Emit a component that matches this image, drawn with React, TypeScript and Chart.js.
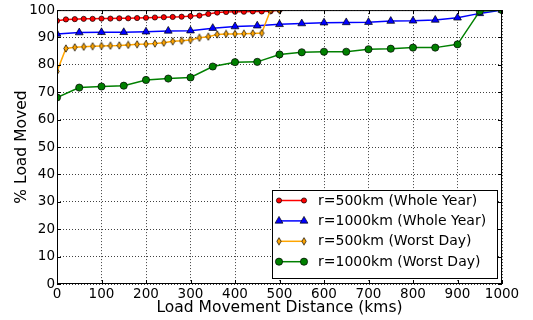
import React, { useEffect, useRef } from "react";
import { Chart, registerables } from "chart.js";
Chart.register(...registerables);

const distFine = [0, 20, 40, 60, 80, 100, 120, 140, 160, 180, 200, 220, 240, 260, 280, 300, 320, 340, 360, 380, 400, 420, 440, 460, 480, 500];
const distCoarse = [0, 50, 100, 150, 200, 250, 300, 350, 400, 450, 500, 550, 600, 650, 700, 750, 800, 850, 900, 950, 1000];

const r500WholeYear = [96.1, 96.6, 96.7, 96.8, 96.8, 96.9, 96.9, 97.0, 97.0, 97.1, 97.2, 97.3, 97.4, 97.5, 97.6, 97.8, 98.0, 98.6, 99.1, 99.3, 99.4, 99.4, 99.5, 99.5, 99.6, 100];
const r1000WholeYear = [91.3, 91.8, 91.9, 91.9, 92.1, 92.4, 92.5, 93.4, 94.0, 94.3, 94.8, 95.1, 95.4, 95.5, 95.6, 96.0, 96.1, 96.4, 97.2, 98.8, 100];
const r500WorstDay = [77.6, 86.0, 86.4, 86.6, 86.8, 86.9, 87.0, 87.1, 87.3, 87.5, 87.6, 87.8, 88.1, 88.6, 88.8, 89.1, 89.9, 90.3, 91.1, 91.3, 91.3, 91.4, 91.5, 91.6, 100, 100];
const r1000WorstDay = [68.1, 71.7, 72.1, 72.4, 74.5, 75.0, 75.4, 79.4, 81.0, 81.1, 83.8, 84.6, 84.8, 84.8, 85.7, 85.9, 86.3, 86.3, 87.5, 99.6, 100];

const xTicks = [0, 100, 200, 300, 400, 500, 600, 700, 800, 900, 1000];
const yTicks = [0, 10, 20, 30, 40, 50, 60, 70, 80, 90, 100];

const seriesLabels = [
  "r=500km (Whole Year)",
  "r=1000km (Whole Year)",
  "r=500km (Worst Day)",
  "r=1000km (Worst Day)",
];
const xTitle = "Load Movement Distance (kms)";
const yTitle = "% Load Moved";

const FONT = "DejaVu Sans";

function makeDiamond(): HTMLCanvasElement {
  const c = document.createElement("canvas");
  c.width = 6;
  c.height = 9;
  const g = c.getContext("2d")!;
  g.beginPath();
  g.moveTo(3, 0.8);
  g.lineTo(5.2, 4.5);
  g.lineTo(3, 8.2);
  g.lineTo(0.8, 4.5);
  g.closePath();
  g.fillStyle = "#ffa500";
  g.fill();
  g.lineWidth = 0.7;
  g.strokeStyle = "#000";
  g.stroke();
  return c;
}

export default function App() {
  const ref = useRef<HTMLCanvasElement>(null);
  useEffect(() => {
    const canvas = ref.current!;
    const diamond = makeDiamond();
    const toPts = (xs: number[], ys: number[]) => xs.map((x, i) => ({ x, y: ys[i] }));

    const drawMarker = (ctx: CanvasRenderingContext2D, kind: number, x: number, y: number) => {
      ctx.save();
      ctx.lineWidth = 0.7;
      ctx.strokeStyle = "#000";
      if (kind === 0) {
        ctx.beginPath();
        ctx.arc(x, y, 2.6, 0, Math.PI * 2);
        ctx.fillStyle = "#ff0000";
        ctx.fill();
        ctx.stroke();
      } else if (kind === 1) {
        const r = 4.5;
        ctx.beginPath();
        ctx.moveTo(x, y - r);
        ctx.lineTo(x + r * 0.866, y + r * 0.5);
        ctx.lineTo(x - r * 0.866, y + r * 0.5);
        ctx.closePath();
        ctx.fillStyle = "#0000ff";
        ctx.fill();
        ctx.stroke();
      } else if (kind === 2) {
        ctx.drawImage(diamond, x - 3, y - 4.5);
      } else {
        ctx.beginPath();
        ctx.arc(x, y, 3.6, 0, Math.PI * 2);
        ctx.fillStyle = "#008000";
        ctx.fill();
        ctx.stroke();
      }
      ctx.restore();
    };

    const colors = ["#ff0000", "#0000ff", "#ffa500", "#008000"];

    const framePlugin = {
      id: "frame",
      afterDraw(chart: any) {
        const { ctx, chartArea: a, scales } = chart;
        ctx.save();
        ctx.strokeStyle = "#000";
        ctx.lineWidth = 1;
        ctx.strokeRect(a.left + 0.5, a.top + 0.5, a.right - a.left - 1, a.bottom - a.top - 1);
        ctx.beginPath();
        for (const v of xTicks) {
          const px = Math.round(scales.x.getPixelForValue(v)) + 0.5;
          ctx.moveTo(px, a.bottom);
          ctx.lineTo(px, a.bottom - 4);
          ctx.moveTo(px, a.top);
          ctx.lineTo(px, a.top + 4);
        }
        for (const v of yTicks) {
          const py = Math.round(scales.y.getPixelForValue(v)) + 0.5;
          ctx.moveTo(a.left, py);
          ctx.lineTo(a.left + 4, py);
          ctx.moveTo(a.right, py);
          ctx.lineTo(a.right - 4, py);
        }
        ctx.stroke();

        const lx = 272, ly = 190, lw = 225, lh = 88;
        ctx.fillStyle = "#fff";
        ctx.fillRect(lx, ly, lw, lh);
        ctx.strokeStyle = "#000";
        ctx.lineWidth = 1;
        ctx.strokeRect(lx + 0.5, ly + 0.5, lw, lh);
        ctx.font = `14px '${FONT}'`;
        ctx.textBaseline = "middle";
        ctx.textAlign = "left";
        seriesLabels.forEach((lab, i) => {
          const y = 200.5 + i * 20.4;
          ctx.strokeStyle = colors[i];
          ctx.lineWidth = 1.5;
          ctx.beginPath();
          ctx.moveTo(279, y);
          ctx.lineTo(304, y);
          ctx.stroke();
          drawMarker(ctx, i, 279, y);
          drawMarker(ctx, i, 304, y);
          ctx.fillStyle = "#000";
          ctx.fillText(lab, 318, y + 0.5);
        });
        ctx.restore();
      },
    };

    const chart = new Chart(canvas, {
      type: "line",
      data: {
        datasets: [
          {
            label: seriesLabels[0],
            data: toPts(distFine, r500WholeYear),
            borderColor: colors[0],
            backgroundColor: colors[0],
            pointBackgroundColor: colors[0],
            pointBorderColor: "#000",
            pointBorderWidth: 0.7,
            pointRadius: 2.6,
            pointStyle: "circle",
            borderWidth: 1.5,
            clip: 0,
            order: 4,
          },
          {
            label: seriesLabels[1],
            data: toPts(distCoarse, r1000WholeYear),
            borderColor: colors[1],
            backgroundColor: colors[1],
            pointBackgroundColor: colors[1],
            pointBorderColor: "#000",
            pointBorderWidth: 0.7,
            pointRadius: 4.5,
            pointStyle: "triangle",
            borderWidth: 1.5,
            clip: 0,
            order: 3,
          },
          {
            label: seriesLabels[2],
            data: toPts(distFine, r500WorstDay),
            borderColor: colors[2],
            backgroundColor: colors[2],
            pointStyle: diamond,
            pointRadius: 4,
            borderWidth: 1.5,
            clip: 0,
            order: 2,
          },
          {
            label: seriesLabels[3],
            data: toPts(distCoarse, r1000WorstDay),
            borderColor: colors[3],
            backgroundColor: colors[3],
            pointBackgroundColor: colors[3],
            pointBorderColor: "#000",
            pointBorderWidth: 0.7,
            pointRadius: 3.6,
            pointStyle: "circle",
            borderWidth: 1.5,
            clip: 0,
            order: 1,
          },
        ] as any,
      },
      options: {
        responsive: false,
        animation: false,
        devicePixelRatio: 1,
        layout: { padding: { left: 0, right: 31, top: 8, bottom: 0 } },
        plugins: { legend: { display: false }, tooltip: { enabled: false } },
        elements: { line: { tension: 0 } },
        scales: {
          x: {
            type: "linear",
            min: 0,
            max: 1000,
            afterBuildTicks: (s: any) => {
              s.ticks = xTicks.map((v) => ({ value: v }));
            },
            afterFit: (s: any) => {
              s.height = 36;
            },
            grid: { color: "rgba(0,0,0,0.75)", lineWidth: 1, drawTicks: false },
            border: { display: false, dash: [1, 2] },
            ticks: {
              color: "#000",
              font: { family: FONT, size: 13.5 },
              padding: 2,
              maxRotation: 0,
              autoSkip: false,
              callback: (v: any) => String(v),
            },
            title: {
              display: true,
              text: xTitle,
              color: "#000",
              font: { family: FONT, size: 15.5 },
              padding: { top: 0, bottom: 3 },
            },
          },
          y: {
            type: "linear",
            min: 0,
            max: 100,
            afterBuildTicks: (s: any) => {
              s.ticks = yTicks.map((v) => ({ value: v }));
            },
            afterFit: (s: any) => {
              s.width = 57;
            },
            grid: { color: "rgba(0,0,0,0.75)", lineWidth: 1, drawTicks: false },
            border: { display: false, dash: [1, 2] },
            ticks: {
              color: "#000",
              font: { family: FONT, size: 13.5 },
              padding: 2,
              autoSkip: false,
              callback: (v: any) => String(v),
            },
            title: {
              display: true,
              text: yTitle,
              color: "#000",
              font: { family: FONT, size: 15.5 },
              padding: { top: 13, bottom: 0 },
            },
          },
        },
      } as any,
      plugins: [framePlugin],
    });
    return () => chart.destroy();
  }, []);

  return (
    <div style={{ position: "fixed", left: 0, top: 0, width: 533, height: 320, background: "#fff" }}>
      <canvas ref={ref} width={533} height={320} style={{ display: "block", width: 533, height: 320 }} />
    </div>
  );
}
